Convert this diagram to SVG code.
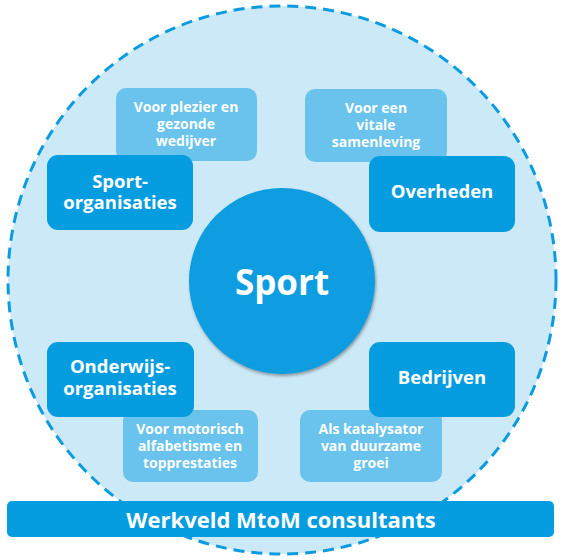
<svg xmlns="http://www.w3.org/2000/svg" width="561" height="560" viewBox="0 0 561 560">
<defs>
<style>
.dark{fill:#069de0;}
.light{fill:#69c3ec;}
.t{font-family:"Open Sans","Liberation Sans",sans-serif;font-weight:bold;fill:#ffffff;text-anchor:middle;}
.tb{font-size:18.5px;}
.tl{font-size:14px;}
</style>
<filter id="sh" x="-20%" y="-20%" width="140%" height="140%">
<feDropShadow dx="1" dy="2" stdDeviation="1.5" flood-color="#333" flood-opacity="0.45"/>
</filter>
</defs>
<rect width="561" height="560" fill="#ffffff"/>
<g id="field">
<circle cx="282" cy="280" r="274" fill="#cce9f7" stroke="#0a9be0" stroke-width="3" stroke-dasharray="11 7"/>
</g>
<g id="connectors"></g>
<g id="sport">
<circle cx="282" cy="281" r="93" fill="#079de0" filter="url(#sh)"/>
<text class="t" x="282" y="295" font-size="35">Sport</text>
</g>
<g id="note-plezier">
<rect class="light" x="116" y="88" width="141" height="73" rx="10"/>
<text class="t tl" x="186" y="112">Voor plezier en</text>
<text class="t tl" x="186" y="129">gezonde</text>
<text class="t tl" x="186" y="146">wedijver</text>
</g>
<g id="note-vitale">
<rect class="light" x="305" y="89" width="142" height="73" rx="10"/>
<text class="t tl" x="376" y="113">Voor een</text>
<text class="t tl" x="376" y="130">vitale</text>
<text class="t tl" x="376" y="147">samenleving</text>
</g>
<g id="note-motorisch">
<rect class="light" x="123" y="410" width="135" height="72" rx="10"/>
<text class="t tl" x="190" y="434">Voor motorisch</text>
<text class="t tl" x="190" y="451">alfabetisme en</text>
<text class="t tl" x="190" y="468">topprestaties</text>
</g>
<g id="note-katalysator">
<rect class="light" x="300" y="410" width="142" height="72" rx="10"/>
<text class="t tl" x="371" y="434">Als katalysator</text>
<text class="t tl" x="371" y="451">van duurzame</text>
<text class="t tl" x="371" y="468">groei</text>
</g>
<g id="sportorganisaties">
<rect class="dark" x="47" y="155" width="146" height="75" rx="11"/>
<text class="t tb" x="120" y="188">Sport-</text>
<text class="t tb" x="120" y="209">organisaties</text>
</g>
<g id="overheden">
<rect class="dark" x="369" y="156" width="146" height="76" rx="11"/>
<text class="t tb" x="442" y="198">Overheden</text>
</g>
<g id="onderwijs">
<rect class="dark" x="47" y="342" width="147" height="75" rx="11"/>
<text class="t tb" x="120" y="373">Onderwijs-</text>
<text class="t tb" x="120" y="395">organisaties</text>
</g>
<g id="bedrijven">
<rect class="dark" x="369" y="342" width="146" height="75" rx="11"/>
<text class="t tb" x="442" y="384">Bedrijven</text>
</g>
<g id="werkveld">
<rect class="dark" x="7" y="501" width="547" height="36" rx="5"/>
<text class="t" x="281" y="528" font-size="22">Werkveld MtoM consultants</text>
</g>
</svg>
